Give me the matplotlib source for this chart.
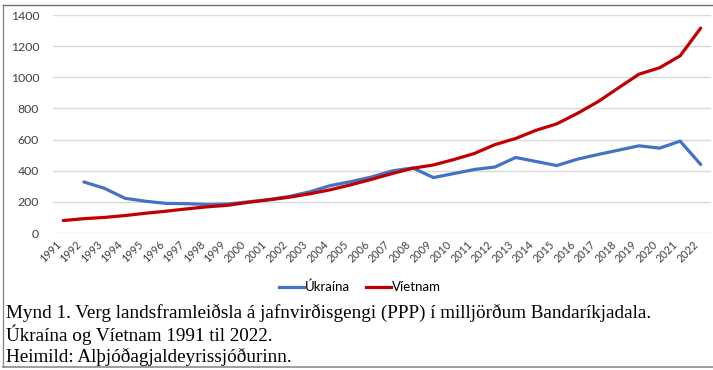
import matplotlib
matplotlib.use("Agg")
import matplotlib.pyplot as plt
from matplotlib.lines import Line2D

years = list(range(1991, 2023))
ukraine_years = list(range(1992, 2023))
ukraine = [328, 287, 223, 204, 190, 188, 183, 186, 200, 215, 235, 265, 305, 330,
           360, 399, 418, 356, 382, 408, 424, 485, 459, 433, 474, 504, 532, 560,
           545, 590, 440]
vietnam = [80, 92, 100, 112, 127, 140, 155, 168, 178, 197, 213, 230, 252, 278,
           310, 345, 382, 416, 437, 472, 511, 568, 607, 660, 701, 768, 843, 932,
           1020, 1061, 1138, 1316]
yticks = [0, 200, 400, 600, 800, 1000, 1200, 1400]
caption = ["Mynd 1. Verg landsframleiðsla á jafnvirðisgengi (PPP) í milljörðum Bandaríkjadala.",
           "Úkraína og Víetnam 1991 til 2022.",
           "Heimild: Alþjóðagjaldeyrissjóðurinn."]

W, H = 713, 370
fig = plt.figure(figsize=(W / 100, H / 100), dpi=100)
fig.patch.set_facecolor("white")

def fx(px):
    return px / W

def fy(py):
    return 1 - py / H

ax = fig.add_axes([fx(53), fy(233), fx(711) - fx(53), fy(15) - fy(233)])
ax.set_xlim(1990.5, 2022.5)
ax.set_ylim(0, 1400)
ax.set_yticks(yticks)
ax.set_xticks(years)
ax.set_xticklabels([str(y) for y in years], rotation=45, ha="right", va="top",
                   fontsize=7.8, family="Lato", color="#404040")
ax.set_yticklabels([str(v) for v in yticks], fontsize=8.8, family="Lato", color="#404040")
ax.tick_params(axis="both", length=0)
ax.tick_params(axis="y", pad=10)
ax.tick_params(axis="x", pad=4)
for s in ax.spines.values():
    s.set_visible(False)
ax.grid(axis="y", color="#d9d9d9", linewidth=1.0)
ax.set_axisbelow(True)

ax.plot(ukraine_years, ukraine, color="#4472C4", linewidth=2.3, solid_capstyle="round", zorder=3)
ax.plot(years, vietnam, color="#C00000", linewidth=2.3, solid_capstyle="round", zorder=3)

handles = [Line2D([], [], color="#4472C4", linewidth=2.3),
           Line2D([], [], color="#C00000", linewidth=2.3)]
fig.legend(handles, ["Úkraína", "Víetnam"], loc="center", bbox_to_anchor=(fx(360), fy(287)),
           ncol=2, frameon=False, prop={"family": "Lato", "size": 9.5},
           handlelength=1.9, handletextpad=0.1, columnspacing=1.2)

for i, line in enumerate(caption):
    fig.text(fx(6), fy(313 + 22 * i), line, family="Liberation Serif", fontsize=13.8,
             va="center", ha="left", color="black")

# outer frame
fig.add_artist(Line2D([fx(3), fx(3)], [fy(5), fy(367)], color="#8c8c8c", linewidth=1.0))
fig.add_artist(Line2D([fx(3), fx(713)], [fy(5), fy(5)], color="#707070", linewidth=1.0))
fig.add_artist(Line2D([fx(3), fx(713)], [fy(367), fy(367)], color="#8c8c8c", linewidth=1.2))

fig.savefig("out.png", dpi=100)
